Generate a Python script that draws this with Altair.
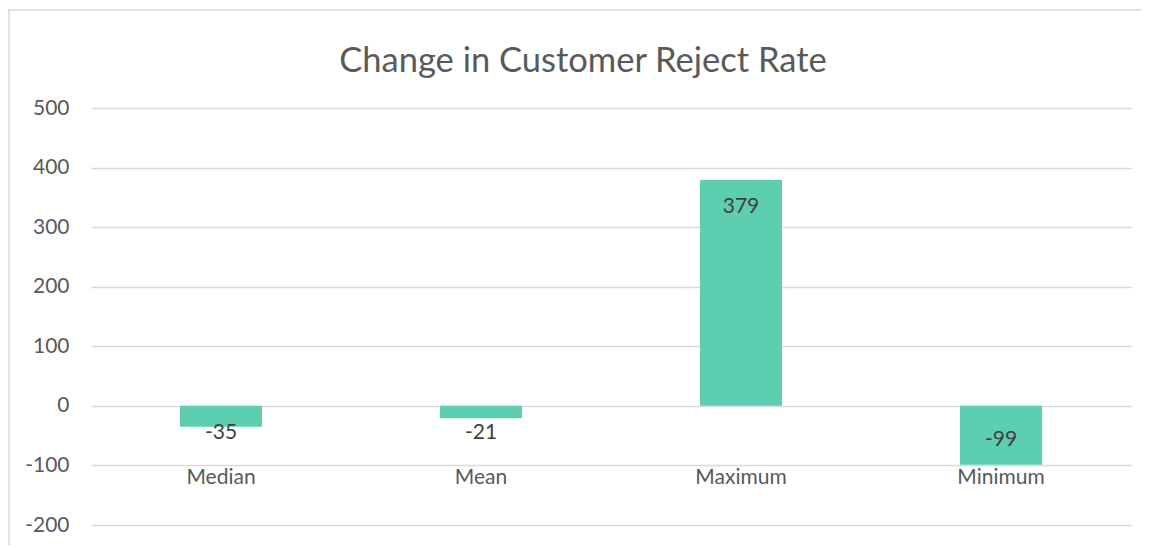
import altair as alt
import pandas as pd

categories = ["Median", "Mean", "Maximum", "Minimum"]
values = [-35, -21, 379, -99]
y_ticks = [-200, -100, 0, 100, 200, 300, 400, 500]
title_text = "Change in Customer Reject Rate"

df = pd.DataFrame({"cat": categories, "val": values})
df["label"] = df["val"].astype(str)
# labels: anchor at bar end for long bars, at the base for short ones
df["anchor"] = [v if abs(v) > 60 else 0 for v in values]
df["down"] = [(v > 0) or abs(v) <= 60 for v in values]

BAR = "#5DCEB0"
GRID = "#D9D9D9"
TXT = "#595959"
FONT = "Lato"
FS = 21

x = alt.X("cat:N", sort=categories, axis=None,
          scale=alt.Scale(paddingInner=0, paddingOuter=0))
yscale = alt.Scale(domain=[-200, 500], nice=False, zero=False)

base = alt.Chart(df)

bars = base.mark_bar(size=82, color=BAR).encode(
    x=x,
    y=alt.Y("val:Q", scale=yscale, title=None,
            axis=alt.Axis(values=y_ticks, grid=True, gridColor=GRID, gridWidth=1.3,
                          domain=False, ticks=False, labelFont=FONT, labelFontSize=FS,
                          labelColor=TXT, labelPadding=22,
                          labelExpr="'' + datum.value")),
    y2=alt.datum(0),
)

lab_down = base.transform_filter("datum.down").mark_text(
    font=FONT, fontSize=FS, color="#404040", baseline="middle", dy=27
).encode(x=x, y=alt.Y("anchor:Q", scale=yscale), text="label:N")

lab_up = base.transform_filter("!datum.down").mark_text(
    font=FONT, fontSize=FS, color="#404040", baseline="middle", dy=-25
).encode(x=x, y=alt.Y("anchor:Q", scale=yscale), text="label:N")

cat_labels = base.mark_text(
    font=FONT, fontSize=FS, color=TXT, baseline="middle", dy=13
).encode(x=x, y=alt.datum(-100), text="cat:N")

one = base.transform_filter("datum.cat == 'Median'")

border_top = one.mark_rule(stroke=GRID, strokeWidth=1.5).encode(
    x=alt.value(-83), x2=alt.value(1100), y=alt.value(-98)
)
border_left = one.mark_rule(stroke=GRID, strokeWidth=1.5).encode(
    x=alt.value(-82), y=alt.value(-98), y2=alt.value(480)
)

title = one.mark_text(
    font=FONT, fontSize=34.5, color=TXT, baseline="alphabetic", align="center"
).encode(x=alt.value(492), y=alt.value(-36), text=alt.value(title_text))

chart = alt.layer(bars, lab_down, lab_up, cat_labels, border_top, border_left, title).properties(
    width=1040, height=417,
    autosize=alt.AutoSizeParams(type="none"),
    padding={"left": 83, "top": 100, "right": 10, "bottom": 20},
).configure_view(stroke=None)

chart.save("out.html", embed_options={"renderer": "svg", "actions": False})
